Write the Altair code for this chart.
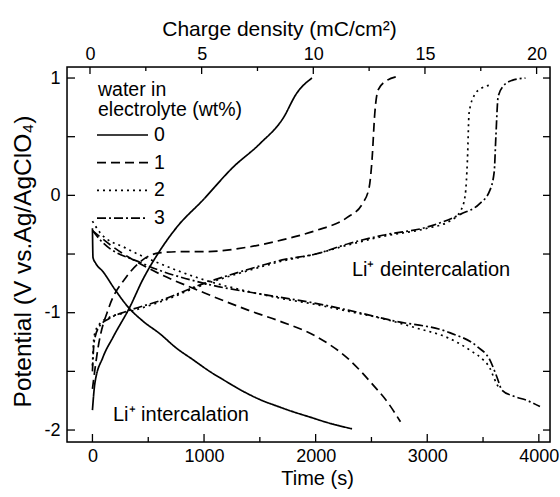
import altair as alt
import pandas as pd

# ---- discharge / charge curves: time (s) and potential (V) ----
# 0 wt% water
t_int_0 = [0, 5, 30, 94, 200, 318, 450, 605, 750, 900, 1050, 1205, 1350, 1500, 1680, 1800, 1950, 2100, 2326]
v_int_0 = [-0.28, -0.53, -0.58, -0.65, -0.80, -0.95, -1.07, -1.18, -1.30, -1.40, -1.50, -1.59, -1.67, -1.74, -1.805, -1.845, -1.89, -1.935, -1.99]
t_dei_0 = [0, 22, 94, 184, 336, 450, 578, 757, 990, 1260, 1500, 1710, 1830, 1967]
v_dei_0 = [-1.83, -1.60, -1.38, -1.21, -0.95, -0.72, -0.51, -0.27, -0.04, 0.24, 0.44, 0.66, 0.87, 1.00]

# 1 wt% water
t_int_1 = [0, 200, 500, 1000, 1400, 1700, 2000, 2300, 2500, 2650, 2760]
v_int_1 = [-0.30, -0.45, -0.62, -0.83, -0.98, -1.08, -1.20, -1.40, -1.60, -1.77, -1.93]
t_dei_1 = [0, 50, 150, 300, 450, 600, 800, 1000, 1400, 1700, 2000, 2280, 2420, 2480, 2505, 2530, 2560, 2640, 2720]
v_dei_1 = [-1.65, -1.30, -0.95, -0.70, -0.55, -0.49, -0.48, -0.48, -0.44, -0.38, -0.30, -0.19, -0.07, 0.07, 0.30, 0.70, 0.90, 0.98, 1.01]

# 2 wt% water
t_int_2 = [0, 70, 300, 600, 1000, 1400, 1700, 2000, 2300, 2600, 2900, 3200, 3400, 3500, 3560, 3600, 3640]
v_int_2 = [-0.22, -0.32, -0.45, -0.58, -0.72, -0.82, -0.88, -0.93, -0.99, -1.05, -1.13, -1.22, -1.33, -1.40, -1.47, -1.56, -1.64]
t_dei_2 = [0, 15, 60, 150, 300, 600, 1000, 1400, 1700, 2000, 2300, 2600, 3000, 3200, 3300, 3340, 3360, 3375, 3420, 3480, 3570]
v_dei_2 = [-1.45, -1.20, -1.10, -1.04, -1.00, -0.91, -0.76, -0.64, -0.56, -0.50, -0.42, -0.35, -0.28, -0.22, -0.13, 0.00, 0.30, 0.70, 0.85, 0.91, 0.94]

# 3 wt% water
t_int_3 = [0, 70, 450, 1000, 1500, 2000, 2300, 2700, 3200, 3450, 3560, 3625, 3670, 3770, 3900, 4010]
v_int_3 = [-0.30, -0.38, -0.58, -0.75, -0.84, -0.92, -0.98, -1.07, -1.17, -1.29, -1.40, -1.55, -1.66, -1.71, -1.75, -1.80]
t_dei_3 = [0, 15, 60, 150, 300, 600, 1000, 1400, 1700, 2000, 2300, 2600, 3000, 3300, 3470, 3560, 3600, 3615, 3635, 3680, 3760, 3880]
v_dei_3 = [-1.50, -1.25, -1.12, -1.05, -0.99, -0.90, -0.75, -0.63, -0.55, -0.50, -0.41, -0.34, -0.27, -0.16, -0.07, 0.04, 0.20, 0.50, 0.84, 0.93, 0.98, 1.00]

water_levels = ["0", "1", "2", "3"]
dash_patterns = [[1, 0], [9, 5], [2, 4], [9, 3, 2, 3]]

curves = [
    ("0", "int", t_int_0, v_int_0), ("0", "dei", t_dei_0, v_dei_0),
    ("1", "int", t_int_1, v_int_1), ("1", "dei", t_dei_1, v_dei_1),
    ("2", "int", t_int_2, v_int_2), ("2", "dei", t_dei_2, v_dei_2),
    ("3", "int", t_int_3, v_int_3), ("3", "dei", t_dei_3, v_dei_3),
]

rows = []
for water, branch, ts, vs in curves:
    for i, (t, v) in enumerate(zip(ts, vs)):
        rows.append({"t": t, "V": v, "water": water, "curve": water + branch, "i": i})
df = pd.DataFrame(rows)

# ---- axes ----
time_ticks = [0, 1000, 2000, 3000, 4000]
time_minor = [500, 1500, 2500, 3500]
charge_ticks = [0, 5, 10, 15, 20]
charge_minor = [2.5, 7.5, 12.5, 17.5]
pot_ticks = [-2, -1, 0, 1]
pot_all = [-2, -1.5, -1, -0.5, 0, 0.5, 1]

annot_text = ["Li\u207a intercalation", "Li\u207a deintercalation"]
annot_t = [184, 2325]
annot_v = [-1.87, -0.64]

W, H = 483, 375
T_DOM = [-228, 4100]
V_DOM = [-2.102, 1.094]
# constant current: 1 mC/cm^2 per ~200 s
Q_DOM = [(T_DOM[0] + 22) / 200.1, (T_DOM[1] + 22) / 200.1]
FONT = "Liberation Sans"

tscale = alt.Scale(domain=T_DOM, nice=False, zero=False)
qscale = alt.Scale(domain=Q_DOM, nice=False, zero=False)
vscale = alt.Scale(domain=V_DOM, nice=False, zero=False)

common = dict(ticks=False, domain=False, grid=False, labelFont=FONT, titleFont=FONT,
              titleFontWeight="normal", labelColor="black", titleColor="black")

lines = alt.Chart(df).mark_line(color="black", strokeWidth=1.7, interpolate="monotone").encode(
    x=alt.X("t:Q", scale=tscale, axis=alt.Axis(
        title="Time (s)", values=time_ticks, format="d", labelFontSize=18, titleFontSize=20,
        labelPadding=5, titlePadding=3, titleX=250, **common)),
    y=alt.Y("V:Q", scale=vscale, axis=None),
    strokeDash=alt.StrokeDash("water:N", scale=alt.Scale(domain=water_levels, range=dash_patterns), legend=None),
    detail="curve:N",
    order="i:Q",
)

# potential axis labels and title
left_axis = alt.Chart(pd.DataFrame({"V": pot_ticks})).mark_point(opacity=0).encode(
    y=alt.Y("V:Q", scale=vscale, axis=alt.Axis(
        title="Potential (V vs.Ag/AgClO\u2084)", values=pot_ticks, labelExpr="'' + datum.value",
        labelFontSize=18, titleFontSize=24.5, labelPadding=7, titlePadding=8, titleY=194, **common)),
    x=alt.value(0),
)

top_axis = alt.Chart(pd.DataFrame({"q": charge_ticks})).mark_point(opacity=0).encode(
    x=alt.X("q:Q", scale=qscale, axis=alt.Axis(
        orient="top", title="Charge density (mC/cm\u00b2)", values=charge_ticks, labelFontSize=18,
        titleFontSize=21, labelPadding=4, titlePadding=6, titleX=212, **common)),
    y=alt.value(0),
)

# plot frame
frame = alt.Chart(alt.Data(values=[{}])).mark_rect(
    fillOpacity=0, stroke="black", strokeWidth=1.5).encode(
    x=alt.value(0), x2=alt.value(W), y=alt.value(0), y2=alt.value(H))


def xticks(values, field, scale, y0, y1):
    return alt.Chart(pd.DataFrame({field: values})).mark_rule(color="black", strokeWidth=1.3).encode(
        x=alt.X(f"{field}:Q", scale=scale, axis=None), y=alt.value(y0), y2=alt.value(y1))


def yticks(values, x0, x1):
    return alt.Chart(pd.DataFrame({"V": values})).mark_rule(color="black", strokeWidth=1.3).encode(
        y=alt.Y("V:Q", scale=vscale, axis=None), x=alt.value(x0), x2=alt.value(x1))


tick_layers = [
    xticks(time_ticks, "t", tscale, H, H - 8),
    xticks(time_minor, "t", tscale, H, H - 5),
    xticks(charge_ticks, "q", qscale, 0, 7),
    xticks(charge_minor, "q", qscale, 0, 4),
    yticks(pot_all, 0, 8),
    yticks(pot_all, W, W - 7),
]

annots = alt.Chart(pd.DataFrame({"t": annot_t, "V": annot_v, "label": annot_text})).mark_text(
    align="left", baseline="middle", fontSize=20, font=FONT, color="black").encode(
    x=alt.X("t:Q", scale=tscale, axis=None),
    y=alt.Y("V:Q", scale=vscale, axis=None),
    text="label:N",
)

# legend drawn inside the plot, top left
legend_layers = []
one = alt.Data(values=[{}])
for k, line_txt in enumerate(["water in", "electrolyte (wt%)"]):
    legend_layers.append(alt.Chart(one).mark_text(
        align="left", baseline="middle", fontSize=19.5, font=FONT, color="black").encode(
        x=alt.value(31), y=alt.value(23 + 20 * k), text=alt.value(line_txt)))
for k, (lvl, dash) in enumerate(zip(water_levels, dash_patterns)):
    yy = 68 + 27.7 * k
    legend_layers.append(alt.Chart(one).mark_rule(color="black", strokeWidth=1.7, strokeDash=dash).encode(
        x=alt.value(30), x2=alt.value(81), y=alt.value(yy)))
    legend_layers.append(alt.Chart(one).mark_text(
        align="left", baseline="middle", fontSize=19.5, font=FONT, color="black").encode(
        x=alt.value(87), y=alt.value(yy), text=alt.value(lvl)))

chart = alt.layer(lines, left_axis, top_axis, annots, frame, *tick_layers, *legend_layers).resolve_scale(
    x="independent", y="independent"
).properties(
    width=W, height=H,
    autosize=alt.AutoSizeParams(type="none"),
    padding={"left": 67, "top": 67, "right": 10, "bottom": 55},
).configure(background="white")

chart.save("out.html", embed_options={"renderer": "svg", "actions": False})
